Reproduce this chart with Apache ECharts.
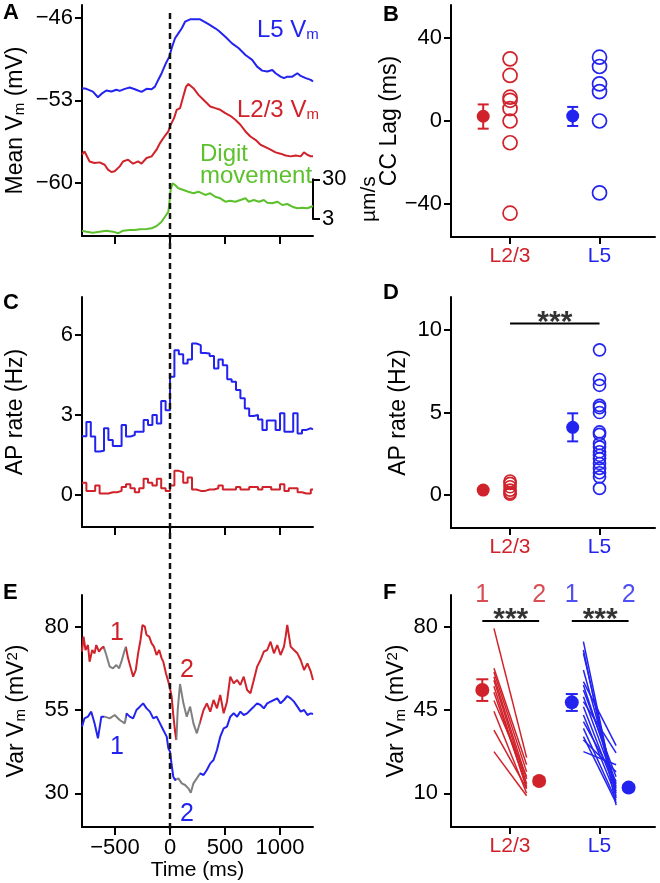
<!DOCTYPE html>
<html><head><meta charset="utf-8">
<script src="https://cdn.jsdelivr.net/npm/echarts@6/dist/echarts.min.js"></script>
<style>html,body{margin:0;padding:0;background:#fff}#c{width:660px;height:883px}</style>
</head><body><div id="c"></div>
<script>
// ================= DATA =================
const layers = ['L2/3', 'L5'];
const layerPos = [1, 2];
const timeTicks = [-500, 0, 500, 1000];
const aVmTicks = [-60, -53, -46];
const aSpeedTicks = [3, 30];
const bLagTicks = [-40, 0, 40];
const cRateTicks = [0, 3, 6];
const dRateTicks = [0, 5, 10];
const eVarTicks = [30, 55, 80];
const fVarTicks = [10, 45, 80];
const onsetTime = 0;

// Panel A: mean Vm (mV) vs time (ms)
const aL5Vm = [[-800,-51.96],[-761,-52.02],[-701,-52.25],[-655,-52.73],[-624,-52.45],[-579,-52.16],[-533,-52.25],[-487,-52.10],[-457,-52.19],[-411,-52.02],[-366,-51.91],[-320,-52.05],[-259,-52.28],[-213,-52.02],[-167,-52.05],[-137,-51.83],[-107,-51.26],[-76,-50.69],[-37,-49.84],[-6,-49.28],[15,-48.57],[46,-47.72],[76,-47.30],[107,-46.87],[137,-46.31],[183,-46.11],[274,-46.11],[290,-46.23],[350,-46.51],[411,-46.87],[442,-47.08],[503,-47.59],[564,-48.15],[625,-48.57],[686,-49.14],[747,-49.56],[792,-50.13],[838,-50.47],[884,-50.55],[930,-50.41],[960,-50.69],[1005,-50.98],[1036,-51.11],[1066,-50.98],[1112,-50.98],[1158,-50.69],[1188,-50.92],[1234,-51.11],[1280,-51.26],[1300,-51.40]];
const aL23Vm = [[-800,-57.62],[-777,-57.34],[-731,-58.19],[-686,-58.32],[-640,-58.27],[-594,-58.47],[-564,-58.89],[-533,-59.09],[-503,-59.03],[-457,-58.61],[-427,-58.19],[-381,-58.04],[-335,-58.38],[-290,-58.19],[-259,-58.38],[-213,-57.90],[-167,-57.76],[-122,-57.19],[-91,-56.63],[-46,-56.01],[-15,-55.64],[6,-55.07],[37,-54.51],[61,-53.80],[91,-53.66],[116,-52.81],[146,-51.83],[167,-51.60],[213,-51.96],[259,-52.53],[274,-52.67],[320,-53.10],[366,-53.52],[411,-53.66],[457,-53.80],[503,-54.08],[548,-54.31],[594,-54.65],[640,-55.07],[686,-55.64],[731,-56.07],[777,-56.35],[823,-56.77],[868,-56.97],[914,-57.19],[960,-57.42],[1005,-57.53],[1051,-57.68],[1097,-57.76],[1142,-57.68],[1188,-57.76],[1218,-57.42],[1249,-57.62],[1280,-57.76],[1300,-57.76]];
// digit movement speed (um/s), log axis
const aDigitSpeed = [[-800,1.52],[-761,1.44],[-701,1.36],[-640,1.44],[-579,1.52],[-518,1.44],[-472,1.31],[-427,1.52],[-366,1.58],[-320,1.58],[-274,1.65],[-213,1.68],[-167,1.75],[-122,2.0],[-76,2.57],[-46,3.43],[-15,4.58],[-6,7.45],[6,16.1],[24,23.8],[46,21.5],[76,17.8],[122,16.1],[167,14.6],[213,13.3],[259,14.6],[274,13.3],[320,12.1],[366,13.3],[411,10.9],[457,9.96],[503,8.18],[548,8.67],[594,8.18],[640,9.03],[686,9.96],[716,8.18],[762,9.03],[808,8.18],[853,9.03],[884,7.73],[930,7.45],[975,8.18],[1021,6.76],[1066,7.16],[1112,6.12],[1158,5.58],[1203,5.78],[1249,5.58],[1300,6.37]];

// Panel B: CC lag (ms)
const bL23Lag = [30, 22, 11.5, 10, 6, 0, -10.5, -44.5];
const bL5Lag = [30.8, 26.3, 17.9, 14.2, 0, -34.7];
const bMeanLag = [2.3, 2.4];
const bSemLow = [-3.7, -2.4];
const bSemHigh = [8.0, 6.8];

// Panel C: AP rate (Hz), 40 ms bins starting at -800 ms
const cBinStart = -800, cBinWidth = 40, cEnd = 1300;
const cL5Rate = [2.19,2.73,2.18,1.62,1.65,2.49,2.05,1.83,1.83,2.61,2.18,2.24,2.36,2.36,2.80,2.61,2.99,2.67,3.51,3.17,4.42,5.41,5.26,4.91,5.06,5.66,5.60,5.31,5.29,5.19,4.73,5.06,4.85,4.32,4.23,3.92,3.61,3.23,2.95,2.99,2.82,2.43,2.78,2.78,2.43,3.05,2.36,2.36,3.05,2.30,2.43,2.49,2.45];
const cL23Rate = [0.45,0.15,0.15,0.35,0.05,0.05,0.1,0.1,0.15,0.3,0.4,0.25,0.1,0.25,0.6,0.45,0.35,0.6,0.25,0.15,0.35,0.9,0.85,0.45,0.65,0.2,0.15,0.15,0.2,0.2,0.25,0.35,0.2,0.2,0.2,0.3,0.2,0.2,0.3,0.3,0.2,0.3,0.3,0.2,0.2,0.4,0.15,0.25,0.25,0.1,0.05,0.05,0.2];

// Panel D: AP rate (Hz)
const dL23Rate = [0.85, 0.7, 0.5, 0.3, 0.15, 0.05];
const dL5Rate = [8.8, 7.0, 6.65, 5.43, 5.3, 5.0, 3.82, 3.68, 3.12, 2.92, 2.62, 2.41, 2.21, 1.91, 1.61, 1.35, 1.1, 0.4];
const dMeanRate = [0.3, 4.1];
const dSemLow = [0.22, 3.25];
const dSemHigh = [0.38, 4.95];
const dSigLevel = 10.4;
const dSigText = '***';

// Panel E: Var Vm (mV^2)
const eL23Var = [[-800,72.5],[-786,77],[-768,73],[-746,74.5],[-731,69.5],[-707,73],[-686,72],[-670,74.5],[-646,72.5],[-624,73.5],[-603,74],[-579,71.5],[-548,68],[-518,67.5],[-487,68.5],[-463,67.5],[-442,69.5],[-420,72],[-402,74],[-381,70.5],[-360,68],[-335,65],[-311,67],[-290,72],[-268,76],[-250,80.5],[-229,80],[-213,77.5],[-189,77],[-167,75],[-146,74],[-122,71.5],[-98,73],[-76,70.5],[-61,69.5],[-37,66],[-15,63.5],[0,61.5],[15,59],[30,53.5],[46,48.5],[58,46],[70,55],[91,62.8],[122,57],[152,53],[183,56],[213,51],[244,48],[274,51.5],[305,55],[335,57],[366,54.5],[396,58],[427,55.5],[457,59.5],[488,54],[518,57.5],[548,65],[579,63],[610,64],[640,62.5],[670,65],[701,61],[731,60],[762,64],[792,68],[823,70],[853,72.5],[884,73],[914,75.5],[945,72],[975,74.5],[1005,71.5],[1036,74],[1051,77],[1066,80.5],[1097,74],[1127,73],[1158,72],[1188,70],[1219,67],[1249,69],[1280,66.5],[1300,64]];
const eL5Var = [[-800,50],[-777,52.5],[-746,53],[-716,54.5],[-686,51],[-655,46.5],[-624,53],[-594,53],[-548,52.5],[-503,53.5],[-457,52],[-411,51],[-396,54],[-366,53],[-335,52.5],[-305,55],[-274,56],[-244,57],[-213,55.5],[-183,54.5],[-152,52.5],[-122,53],[-91,51],[-61,49],[-30,47],[-15,43.5],[0,42.5],[15,38.5],[30,35],[46,34],[76,34.5],[107,33],[137,32.5],[167,31.5],[189,30.2],[213,33],[244,34.5],[274,36],[305,35.5],[335,37],[366,39],[396,40],[427,43],[457,47],[488,49.5],[518,50],[548,53],[579,54],[610,53],[640,54.5],[670,53.5],[701,54],[731,55],[762,56],[792,57],[823,56.5],[853,55.5],[884,57],[914,57.5],[945,58],[975,58.5],[1005,57],[1036,58],[1066,59.2],[1097,58.5],[1127,57.5],[1158,56],[1188,54.5],[1219,55],[1249,53.5],[1280,54],[1300,53.8]];
const eWindows = [[-600, -400], [50, 270]];
const eWindowNames = ['1', '2'];

// Panel F: Var Vm (mV^2), window 1 vs window 2, per cell
const fL23Win1 = [79.3, 62.5, 61, 59, 57.5, 55, 52.5, 49, 44.5, 36.5, 27.5];
const fL23Win2 = [25, 22, 19, 16, 14, 12, 13, 17, 10, 12, 9];
const fL5Win1 = [73.7, 70.2, 68.8, 61.8, 56.9, 55.5, 53.4, 50.6, 48.5, 46.4, 42.9, 40.1, 37.3, 33.8, 32.4, 27.5];
const fL5Win2 = [8, 5, 10, 12, 30, 14, 17, 13, 27, 11, 9, 15, 7, 6, 19, 22];
const fMeanWin1 = [53.4, 48.2];
const fSemWin1Low = [48.8, 44.6];
const fSemWin1High = [57.9, 51.7];
const fMeanWin2 = [15.2, 12.4];
const fSemWin2Low = [13.8, 11.2];
const fSemWin2High = [16.6, 13.6];
const fSigLevel = 82.4;
const fSigText = '***';

// ================= STYLE / LAYOUT =================
const FONT = '"Liberation Sans", Arial, Helvetica, sans-serif';
const RED = '#d0222a', BLUE = '#2323f0', GREEN = '#5cc12c', GRAY = '#7f7f7f', DASH = '#111';
const TICK_FS = 22, TITLE_FS = 23;
const MEAN_OFF = -0.3;
const F_OFF = {m1: -0.31, l1: -0.18, l2: 0.185, m2: 0.325};
const F_NUM_Y = 93.3;
const minus = v => String(v).replace('-', '\u2212');
const axLine = () => ({show: true, onZero: false, lineStyle: {color: '#000', width: 2}});
const ticks = (vals, len) => ({show: true, customValues: vals, length: len || 7, lineStyle: {color: '#000', width: 2}});
const labels = (vals, margin) => ({show: true, customValues: vals, margin: margin, color: '#000', fontSize: TICK_FS, fontFamily: FONT, formatter: minus});
const rich = {
  t: {fontSize: TITLE_FS, fontFamily: FONT, color: '#000'},
  s: {fontSize: 15, fontFamily: FONT, color: '#000', verticalAlign: 'bottom'},
  p: {fontSize: 15, fontFamily: FONT, color: '#000', verticalAlign: 'top'}
};
const VM_NAME = '{t|Mean V}{s|m}{t| (mV)}';
const VAR_NAME = '{t|Var V}{s|m}{t| (mV}{p|2}{t|)}';
const noSplit = {show: false};

const grids = [
  {left: 82, top: 5, width: 231, height: 231},        // 0 A
  {left: 82, top: 179.3, width: 231, height: 39.7},   // 1 A speed
  {left: 451, top: 5, width: 204, height: 232},       // 2 B
  {left: 82, top: 297, width: 231, height: 230},      // 3 C
  {left: 451, top: 297, width: 204, height: 231},     // 4 D
  {left: 82, top: 595, width: 231, height: 232},      // 5 E
  {left: 451, top: 595, width: 204, height: 232},     // 6 F
  {left: 82, top: 11, width: 231, height: 818}        // 7 onset line
].map(g => Object.assign({containLabel: false, outerBoundsMode: 'none'}, g));

const timeX = (gi, extra) => Object.assign({gridIndex: gi, type: 'value', min: -800, max: 1300,
  axisLine: axLine(), axisTick: ticks(timeTicks, 8), axisLabel: {show: false}, splitLine: noSplit}, extra || {});
const layerX = gi => ({gridIndex: gi, type: 'value', min: 0.34, max: 2.62, axisLine: axLine(),
  axisTick: ticks(layerPos, 7), splitLine: noSplit,
  axisLabel: {show: true, customValues: layerPos, margin: 9, fontSize: 21, fontFamily: FONT,
    formatter: v => layers[layerPos.indexOf(Math.round(v))], color: v => Number(v) < 1.5 ? RED : BLUE}});
const valY = (gi, min, max, tv, margin, name, gap, extra) => Object.assign({gridIndex: gi, type: 'value', min, max,
  axisLine: axLine(), axisTick: ticks(tv, 7), axisLabel: labels(tv, margin), splitLine: noSplit,
  name, nameLocation: 'middle', nameGap: gap, nameTextStyle: {fontSize: TITLE_FS, fontFamily: FONT, color: '#000', rich}}, extra || {});

const xAxis = [
  timeX(0),
  timeX(1, {show: false}),
  layerX(2),
  timeX(3),
  layerX(4),
  timeX(5, {axisLabel: labels(timeTicks, 10), name: 'Time (ms)', nameLocation: 'middle', nameGap: 30,
    nameTextStyle: {fontSize: 21, fontFamily: FONT, color: '#000'}}),
  layerX(6),
  timeX(7, {show: false})
];
const yAxis = [
  valY(0, -64.53, -44.89, aVmTicks, 9, VM_NAME, 55),
  {gridIndex: 1, type: 'log', logBase: 10, min: 3, max: 30, position: 'right', axisLine: axLine(),
    axisTick: ticks(aSpeedTicks, 7), axisLabel: labels(aSpeedTicks, 9), splitLine: noSplit,
    name: 'µm/s', nameLocation: 'middle', nameGap: 46, nameTextStyle: {fontSize: 21, fontFamily: FONT, color: '#000'}},
  valY(2, -56, 56, bLagTicks, 9, 'CC Lag (ms)', 43),
  valY(3, -1.2, 7.4, cRateTicks, 9, 'AP rate (Hz)', 55),
  valY(4, -2, 12, dRateTicks, 9, 'AP rate (Hz)', 41),
  valY(5, 19.9, 89.5, eVarTicks, 13, VAR_NAME, 54),
  valY(6, -4.15, 93.3, fVarTicks, 13, VAR_NAME, 43),
  {gridIndex: 7, type: 'value', min: 0, max: 1, show: false}
];

// ================= SERIES =================
const S = [];
const base = {animation: false, silent: true};
function line(xi, data, color, extra) {
  return Object.assign({type: 'line', xAxisIndex: xi, yAxisIndex: xi, data, symbol: 'none',
    lineStyle: {color, width: 2}, itemStyle: {color}, z: 2}, base, extra || {});
}
function opens(xi, x, vals, color, size) {
  return Object.assign({type: 'scatter', xAxisIndex: xi, yAxisIndex: xi, data: vals.map(v => [x, v]),
    symbol: 'circle', symbolSize: size, z: 3,
    itemStyle: {color: 'rgba(0,0,0,0)', borderColor: color, borderWidth: 1.7, opacity: 1}}, base);
}
function means(xi, pts, colors, size) {
  return Object.assign({type: 'scatter', xAxisIndex: xi, yAxisIndex: xi, symbol: 'circle', symbolSize: size, z: 5,
    data: pts.map((p, i) => ({value: p, itemStyle: {color: colors[i], opacity: 1}}))}, base);
}
function errBars(xi, rows, colors, cap) {
  return Object.assign({type: 'custom', xAxisIndex: xi, yAxisIndex: xi, data: rows, encode: {x: 0, y: [1, 2]}, z: 4,
    renderItem: (params, api) => {
      const x = api.value(0);
      const lo = api.coord([x, api.value(1)]), hi = api.coord([x, api.value(2)]);
      const st = {stroke: colors[params.dataIndex], lineWidth: 2};
      return {type: 'group', children: [
        {type: 'line', shape: {x1: lo[0], y1: lo[1], x2: hi[0], y2: hi[1]}, style: st},
        {type: 'line', shape: {x1: lo[0] - cap, y1: lo[1], x2: lo[0] + cap, y2: lo[1]}, style: st},
        {type: 'line', shape: {x1: hi[0] - cap, y1: hi[1], x2: hi[0] + cap, y2: hi[1]}, style: st}]};
    }}, base);
}
function textAt(xi, pts, texts, colors, size, bold, offset) {
  return Object.assign({type: 'scatter', xAxisIndex: xi, yAxisIndex: xi, symbolSize: 0, z: 6,
    data: pts.map((p, i) => ({value: p, name: texts[i],
      label: {show: true, position: 'inside', offset: offset || [0, 0], formatter: texts[i], color: colors[i],
        fontSize: size, fontFamily: FONT, fontWeight: bold ? 'bold' : 'normal'}}))}, base);
}
const colorsRB = [RED, BLUE];

// A
S.push(line(0, aL5Vm, BLUE));
S.push(line(0, aL23Vm, RED));
S.push(line(1, aDigitSpeed, GREEN, {clip: false}));

// B
S.push(opens(2, layerPos[0], bL23Lag, RED, 14));
S.push(opens(2, layerPos[1], bL5Lag, BLUE, 14));
S.push(errBars(2, layerPos.map((p, i) => [p + MEAN_OFF, bSemLow[i], bSemHigh[i]]), colorsRB, 5.5));
S.push(means(2, layerPos.map((p, i) => [p + MEAN_OFF, bMeanLag[i]]), colorsRB, 13));

// C
const stepData = vals => vals.map((v, k) => [cBinStart + k * cBinWidth, v]).concat([[cEnd, vals[vals.length - 1]]]);
S.push(line(3, stepData(cL5Rate), BLUE, {step: 'end'}));
S.push(line(3, stepData(cL23Rate), RED, {step: 'end'}));

// D
S.push(opens(4, layerPos[0], dL23Rate, RED, 12));
S.push(opens(4, layerPos[1], dL5Rate, BLUE, 12));
S.push(errBars(4, layerPos.map((p, i) => [p + MEAN_OFF, dSemLow[i], dSemHigh[i]]), colorsRB, 5.5));
S.push(means(4, layerPos.map((p, i) => [p + MEAN_OFF, dMeanRate[i]]), colorsRB, 13));
S.push(line(4, [[layerPos[0], dSigLevel], [layerPos[1], dSigLevel]], '#000', {z: 3}));
S.push(textAt(4, [[(layerPos[0] + layerPos[1]) / 2, dSigLevel]], [dSigText], ['#000'], 30, true, [0, -1]));

// E (colour comes from visualMap: grey inside the two analysis windows)
const iERed = S.length;
S.push(Object.assign({type: 'line', xAxisIndex: 5, yAxisIndex: 5, data: eL23Var, symbol: 'none', lineStyle: {width: 2}, z: 2}, base));
const iEBlue = S.length;
S.push(Object.assign({type: 'line', xAxisIndex: 5, yAxisIndex: 5, data: eL5Var, symbol: 'none', lineStyle: {width: 2}, z: 2}, base));

// F
[[fL23Win1, fL23Win2, RED, 0], [fL5Win1, fL5Win2, BLUE, 1]].forEach(([w1, w2, c, gi]) => {
  const p = layerPos[gi];
  S.push(Object.assign({type: 'lines', coordinateSystem: 'cartesian2d', xAxisIndex: 6, yAxisIndex: 6, z: 2,
    lineStyle: {color: c, width: 1.5, opacity: 1}, effect: {show: false},
    data: w1.map((v, i) => ({coords: [[p + F_OFF.l1, v], [p + F_OFF.l2, w2[i]]]}))}, base));
});
S.push(errBars(6, layerPos.map((p, i) => [p + F_OFF.m1, fSemWin1Low[i], fSemWin1High[i]]).concat(
  layerPos.map((p, i) => [p + F_OFF.m2, fSemWin2Low[i], fSemWin2High[i]])), [RED, BLUE, RED, BLUE], 6));
S.push(means(6, layerPos.map((p, i) => [p + F_OFF.m1, fMeanWin1[i]]).concat(
  layerPos.map((p, i) => [p + F_OFF.m2, fMeanWin2[i]])), [RED, BLUE, RED, BLUE], 14));
layerPos.forEach(p => {
  S.push(line(6, [[p + F_OFF.m1, fSigLevel], [p + F_OFF.m2, fSigLevel]], '#000', {z: 3}));
});
S.push(textAt(6, layerPos.map(p => [p + (F_OFF.m1 + F_OFF.m2) / 2, fSigLevel]), [fSigText, fSigText], ['#000', '#000'], 30, true, [0, -1]));
S.push(textAt(6, [[1 + F_OFF.m1, F_NUM_Y], [1 + F_OFF.m2, F_NUM_Y], [2 + F_OFF.m1, F_NUM_Y], [2 + F_OFF.m2, F_NUM_Y]],
  [eWindowNames[0], eWindowNames[1], eWindowNames[0], eWindowNames[1]], [RED, RED, BLUE, BLUE], 25, false));

// onset dashed line across A, C, E
S.push(line(7, [[onsetTime, 0], [onsetTime, 1]], DASH, {lineStyle: {color: DASH, width: 2.5, type: [6, 4]}, z: 10}));

const vm = (si, c) => ({type: 'piecewise', show: false, dimension: 0, seriesIndex: si,
  pieces: eWindows.map(w => ({gte: w[0], lte: w[1], color: GRAY})), outOfRange: {color: c}});

// ================= GRAPHIC TEXT =================
const letter = (t, x, y) => ({type: 'text', left: x, top: y, style: {text: t, fontSize: 22, fontWeight: 'bold', fontFamily: FONT, fill: '#000'}});
const txt = (t, x, y, fill) => ({type: 'text', left: x, top: y, style: {text: t, fontSize: 25, fontFamily: FONT, fill}});
const sub = (a, b, x, y, fill) => ({type: 'text', left: x, top: y, style: {text: '{a|' + a + '}{s|' + b + '}',
  rich: {a: {fontSize: 24, fontFamily: FONT, fill}, s: {fontSize: 15, fontFamily: FONT, fill, verticalAlign: 'bottom'}}}});
const graphic = [
  letter('A', 3, 2), letter('B', 383, 4), letter('C', 3, 292), letter('D', 383, 282), letter('E', 3, 582), letter('F', 383, 582),
  sub('L5 V', 'm', 257, 18, BLUE),
  sub('L2/3 V', 'm', 237, 98, RED),
  {type: 'text', left: 200, top: 142, style: {text: 'Digit\nmovement', fontSize: 24, fontFamily: FONT, fill: GREEN, lineHeight: 22}},
  txt('1', 110, 621, RED), txt('2', 180, 658, RED), txt('1', 110, 735, BLUE), txt('2', 180, 802, BLUE)
];

const chart = echarts.init(document.getElementById('c'), null, {renderer: 'canvas', width: 660, height: 883});
chart.setOption({
  animation: false, backgroundColor: '#fff',
  grid: grids, xAxis, yAxis, series: S,
  visualMap: [vm(iERed, RED), vm(iEBlue, BLUE)],
  graphic
});
</script></body></html>
